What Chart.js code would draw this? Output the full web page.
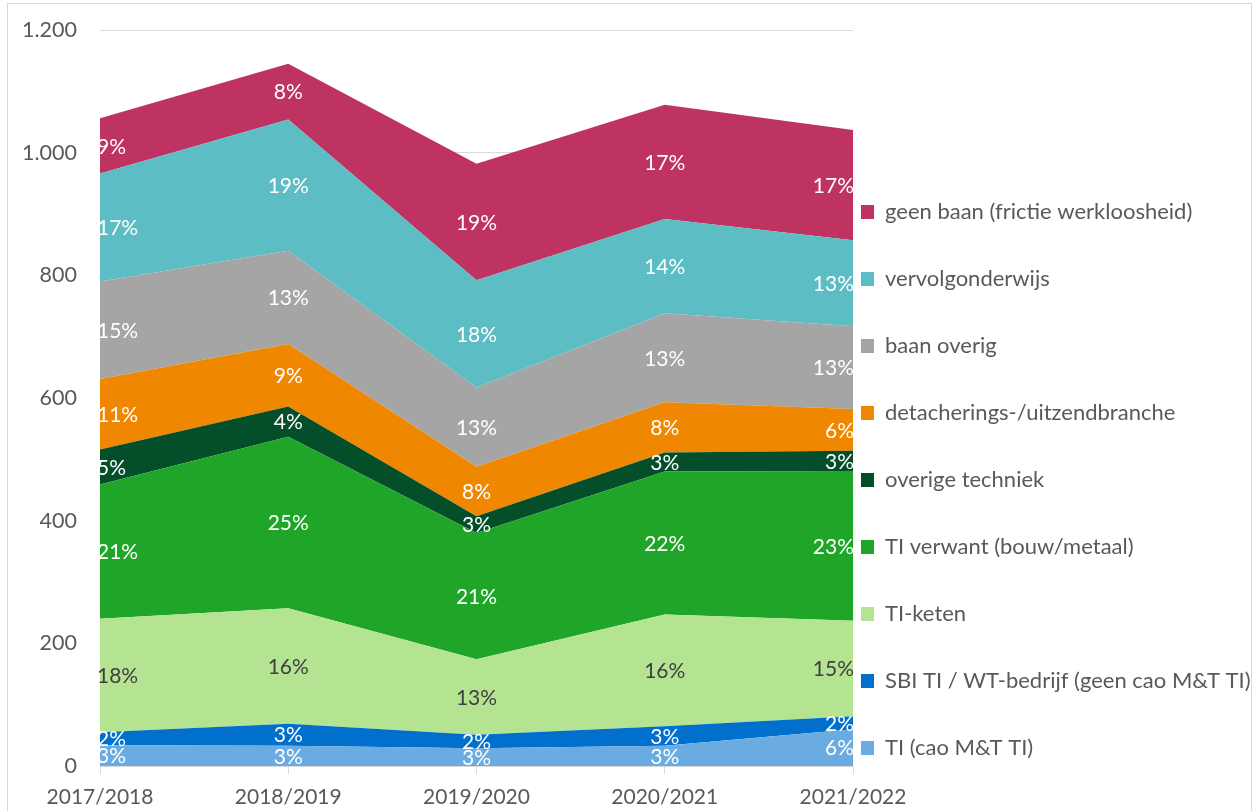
<!DOCTYPE html>
<html>
<head>
<meta charset="utf-8">
<script src="https://cdn.jsdelivr.net/npm/chart.js@4/dist/chart.umd.min.js"></script>
<style>
  html, body { margin: 0; padding: 0; background: #ffffff; }
  #wrap { position: relative; width: 1255px; height: 811px; overflow: hidden; }
  #frame { position: absolute; left: 7px; top: 3px; width: 1243px; height: 900px; border: 1px solid #d9d9d9; pointer-events: none; }
  canvas { position: absolute; left: 0; top: 0; }
</style>
</head>
<body>
<div id="wrap">
  <canvas id="c" width="1255" height="811"></canvas>
  <div id="frame"></div>
</div>
<script>
// Categories (school years)
const categories = ['2017/2018', '2018/2019', '2019/2020', '2020/2021', '2021/2022'];

// Series values (stacked, bottom to top)
const tiCao        = [34, 33, 29, 33, 60];
const sbiTi        = [21, 36, 22, 32, 21];
const tiKeten      = [185, 188, 123, 182, 156];
const tiVerwant    = [219, 280, 206, 233, 244];
const overigeTech  = [57, 49, 27, 31, 33];
const detachering  = [115, 102, 81, 82, 68];
const baanOverig   = [159, 152, 129, 145, 135];
const vervolg      = [176, 214, 175, 154, 140];
const geenBaan     = [90, 91, 190, 186, 180];

// Data labels (percent shares as printed)
const lblTiCao       = ['3%', '3%', '3%', '3%', '6%'];
const lblSbiTi       = ['2%', '3%', '2%', '3%', '2%'];
const lblTiKeten     = ['18%', '16%', '13%', '16%', '15%'];
const lblTiVerwant   = ['21%', '25%', '21%', '22%', '23%'];
const lblOverigeTech = ['5%', '4%', '3%', '3%', '3%'];
const lblDetachering = ['11%', '9%', '8%', '8%', '6%'];
const lblBaanOverig  = ['15%', '13%', '13%', '13%', '13%'];
const lblVervolg     = ['17%', '19%', '18%', '14%', '13%'];
const lblGeenBaan    = ['9%', '8%', '19%', '17%', '17%'];

// Y tick labels (Dutch number format)
const yTickValues = [0, 200, 400, 600, 800, 1000, 1200];
const yTickLabels = ['0', '200', '400', '600', '800', '1.000', '1.200'];

const seriesNames = [
  'TI (cao M&T TI)',
  'SBI TI / WT-bedrijf (geen cao M&T TI)',
  'TI-keten',
  'TI verwant (bouw/metaal)',
  'overige techniek',
  'detacherings-/uitzendbranche',
  'baan overig',
  'vervolgonderwijs',
  'geen baan (frictie werkloosheid)'
];
const seriesValues = [tiCao, sbiTi, tiKeten, tiVerwant, overigeTech, detachering, baanOverig, vervolg, geenBaan];
const seriesLabels = [lblTiCao, lblSbiTi, lblTiKeten, lblTiVerwant, lblOverigeTech, lblDetachering, lblBaanOverig, lblVervolg, lblGeenBaan];
const seriesColors = ['#6aace2', '#0070cc', '#b4e391', '#1fa628', '#054e2a', '#ef8700', '#a5a5a5', '#5dbdc4', '#be3361'];
const labelColors  = ['#ffffff', '#ffffff', '#404040', '#ffffff', '#ffffff', '#ffffff', '#ffffff', '#ffffff', '#ffffff'];

const FONT = 'Lato, "Open Sans", sans-serif';
const TEXT = '#595959';

const datasets = seriesNames.map((name, i) => ({
  label: name,
  data: seriesValues[i],
  backgroundColor: seriesColors[i],
  borderColor: seriesColors[i],
  borderWidth: 0,
  pointRadius: 0,
  pointHoverRadius: 0,
  tension: 0,
  fill: i === 0 ? 'origin' : '-1'
}));

const dataLabelPlugin = {
  id: 'areaLabels',
  afterDatasetsDraw(chart) {
    const ctx = chart.ctx;
    const yScale = chart.scales.y;
    ctx.save();
    ctx.font = '21px ' + FONT;
    ctx.textBaseline = 'middle';
    const n = categories.length;
    for (let i = 0; i < chart.data.datasets.length; i++) {
      const meta = chart.getDatasetMeta(i);
      const prev = i > 0 ? chart.getDatasetMeta(i - 1) : null;
      for (let j = 0; j < n; j++) {
        const pt = meta.data[j];
        const yTop = pt.y;
        const yBot = prev ? prev.data[j].y : yScale.getPixelForValue(0);
        const y = (yTop + yBot) / 2 + 1;
        let x = pt.x;
        if (j === 0) { ctx.textAlign = 'left'; x = x - 3; }
        else if (j === n - 1) { ctx.textAlign = 'right'; x = x + 1; }
        else { ctx.textAlign = 'center'; }
        ctx.fillStyle = labelColors[i];
        ctx.fillText(seriesLabels[i][j], x, y);
      }
    }
    ctx.restore();
  }
};

const legendPlacePlugin = {
  id: 'legendPlace',
  afterLayout(chart) {
    const lg = chart.legend;
    if (!lg) return;
    const pad = lg.options.labels.padding;
    lg.left = 861 - pad;
    lg.bottom = 804;
  }
};

new Chart(document.getElementById('c'), {
  type: 'line',
  data: { labels: categories, datasets: datasets },
  plugins: [dataLabelPlugin, legendPlacePlugin],
  options: {
    responsive: false,
    devicePixelRatio: 1,
    animation: false,
    events: [],
    layout: { padding: { top: 30, right: 0, bottom: 0, left: 0 } },
    plugins: {
      tooltip: { enabled: false },
      legend: {
        position: 'right',
        align: 'end',
        reverse: true,
        maxWidth: 402,
        labels: {
          boxWidth: 13,
          boxHeight: 14,
          padding: 45,
          color: TEXT,
          font: { family: FONT, size: 22 }
        }
      }
    },
    scales: {
      x: {
        offset: false,
        afterFit(scale) { scale.height = 45; },
        grid: { display: true, drawOnChartArea: false, drawTicks: true, tickLength: 8, color: '#d9d9d9' },
        border: { display: true, color: '#d9d9d9' },
        ticks: { color: TEXT, font: { family: FONT, size: 21 }, padding: 11, maxRotation: 0, autoSkip: false }
      },
      y: {
        stacked: true,
        min: 0,
        max: 1200,
        afterBuildTicks(scale) { scale.ticks = yTickValues.map(v => ({ value: v })); },
        afterFit(scale) { scale.width = 100; scale.paddingTop = 10; scale.paddingBottom = 10; },
        grid: { color: '#d9d9d9', drawTicks: false },
        border: { display: false },
        ticks: {
          color: TEXT,
          font: { family: FONT, size: 21.5 },
          padding: 23,
          callback: (v) => yTickLabels[yTickValues.indexOf(v)]
        }
      }
    }
  }
});
</script>
</body>
</html>
